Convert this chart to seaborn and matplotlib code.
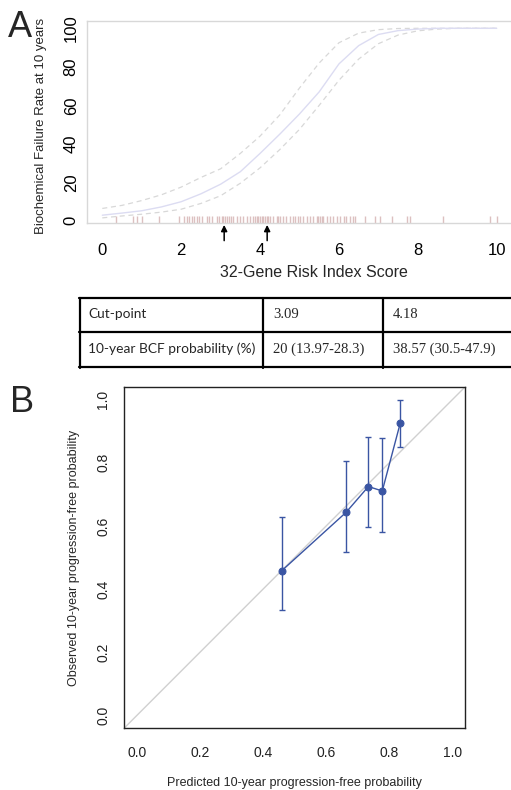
import numpy as np
import matplotlib
matplotlib.use('Agg')
import matplotlib.pyplot as plt
import seaborn as sns
import pandas as pd

# Panel A: risk curve with 95% band
score_x = [0, 0.5, 1, 1.5, 2, 2.5, 3, 3.5, 4, 4.5, 5, 5.5, 6, 6.5, 7, 7.5, 8, 8.5, 9, 10]
bcf_mid = [2.9, 4, 5.2, 7.2, 9.9, 14, 19, 25.5, 35, 45, 55.5, 67, 81.5, 91, 96.8, 98.8, 99.6, 100, 100, 100]
bcf_upper = [6.4, 8, 10.5, 13.5, 17.5, 22.5, 27, 35, 44, 55, 69, 82, 92.5, 97.5, 99.3, 99.9, 100, 100, 100, 100]
bcf_lower = [1.5, 2.5, 3.4, 4.5, 6, 9, 13, 19.5, 27.5, 37, 47.5, 60, 73, 84, 92, 96.5, 98.7, 99.6, 100, 100]

rug_scores = [0.35, 0.79, 0.89, 1.00, 1.45, 1.95, 2.07, 2.14, 2.21, 2.27, 2.33, 2.39, 2.45,
              2.52, 2.65, 2.71, 2.77, 2.90, 2.97, 3.03, 3.07, 3.11, 3.15, 3.20, 3.26, 3.32,
              3.41, 3.49, 3.56, 3.66, 3.74, 3.83, 3.87, 3.91, 3.96, 4.00, 4.04, 4.08, 4.13,
              4.17, 4.21, 4.25, 4.34, 4.42, 4.46, 4.51, 4.59, 4.67, 4.76, 4.84, 4.89, 4.95,
              5.01, 5.10, 5.18, 5.27, 5.35, 5.44, 5.48, 5.52, 5.56, 5.60, 5.69, 5.77, 5.86,
              5.94, 6.03, 6.13, 6.18, 6.28, 6.36, 6.41, 6.66, 6.91, 7.04, 7.34, 7.73, 7.80,
              8.65, 9.83, 10.0]

cut_points = [3.09, 4.18]

# table
table_rows = ['Cut-point', '10-year BCF probability (%)']
table_col1 = ['3.09', '20 (13.97-28.3)']
table_col2 = ['4.18', '38.57 (30.5-47.9)']

# Panel B: calibration
pred = np.array([0.460, 0.663, 0.734, 0.778, 0.835])
obs = np.array([0.459, 0.643, 0.725, 0.711, 0.926])
obs_lo = np.array([0.335, 0.517, 0.598, 0.580, 0.850])
obs_hi = np.array([0.630, 0.806, 0.882, 0.878, 1.000])

sns.set_style('white')
plt.rcParams['font.family'] = ['Liberation Sans', 'DejaVu Sans']

fig = plt.figure(figsize=(5.11, 7.9), dpi=100)
W, H = 511, 790

# table drawn in pixel coords
axT = fig.add_axes([0, 0, 1, 1])
axT.set_xlim(0, W)
axT.set_ylim(H, 0)
axT.axis('off')
axT.patch.set_alpha(0)
for yy in [298, 332, 367]:
    axT.plot([78.5, 530], [yy, yy], color='black', lw=1.6)
for xx in [79.5, 262.5, 382.5]:
    axT.plot([xx, xx], [297.5, 367.5], color='black', lw=1.6)
row_y = [314, 349]
for i in range(2):
    axT.text(88, row_y[i], table_rows[i], fontsize=9.9, family=['Lato', 'DejaVu Sans'],
             va='center', ha='left')
    axT.text(273, row_y[i], table_col1[i], fontsize=10.5, family=['Liberation Serif'],
             va='center', ha='left')
    axT.text(393, row_y[i], table_col2[i], fontsize=10.5, family=['Liberation Serif'],
             va='center', ha='left')

# Panel A
axA = fig.add_axes([87 / W, 1 - 222.5 / H, (541 - 87) / W, (222.5 - 21) / H])
sns.rugplot(x=rug_scores, ax=axA, height=0.03, color='#dcc0c0', lw=0.8)
sns.lineplot(x=score_x, y=bcf_upper, ax=axA, color='#d8d8d8', lw=0.9)
axA.lines[-1].set_linestyle((0, (4, 3)))
sns.lineplot(x=score_x, y=bcf_lower, ax=axA, color='#d8d8d8', lw=0.9)
axA.lines[-1].set_linestyle((0, (4, 3)))
sns.lineplot(x=score_x, y=bcf_mid, ax=axA, color='#dcdcf2', lw=1.0)
axA.set_xlim(-0.388, 11.123)
axA.set_ylim(-0.9, 103.8)
axA.set_xticks([0, 2, 4, 6, 8, 10])
axA.set_yticks([0, 20, 40, 60, 80, 100])
for s in axA.spines.values():
    s.set_color('#d8d8d8')
    s.set_linewidth(1)
axA.tick_params(axis='both', colors='#d0d0d0', labelcolor='black', labelsize=12,
                length=5, width=1, direction='out')
axA.tick_params(axis='x', pad=10)
axA.tick_params(axis='y', pad=1, labelrotation=90)
for lab in axA.get_yticklabels():
    lab.set_va('center')
axA.set_xlabel('32-Gene Risk Index Score', fontsize=11.5)
axA.xaxis.set_label_coords(0.5, -0.21)
axA.set_ylabel('Biochemical Failure Rate at 10 years', fontsize=9.5)
axA.yaxis.set_label_coords(-0.088, 0.48)
for cp in cut_points:
    axA.annotate('', xy=(cp, -0.012), xycoords=('data', 'axes fraction'),
                 xytext=(cp, -0.09), textcoords=('data', 'axes fraction'),
                 arrowprops=dict(arrowstyle='-|>', color='black', lw=1.1, mutation_scale=9,
                                 shrinkA=0, shrinkB=0),
                 annotation_clip=False)

# Panel B
blue = '#3a55a3'
axB = fig.add_axes([124 / W, 1 - 728.3 / H, (465 - 124) / W, (728.3 - 387) / H])
axB.plot([-0.04, 1.04], [-0.04, 1.04], color='#d0d0d0', lw=1)
axB.errorbar(pred, obs, yerr=[obs - obs_lo, obs_hi - obs], fmt='none', ecolor=blue,
             elinewidth=1, capsize=2.5, capthick=1)
sns.lineplot(x=pred, y=obs, ax=axB, color=blue, lw=1, marker='o', markersize=5,
             markeredgecolor=blue)
axB.set_xlim(-0.04, 1.04)
axB.set_ylim(-0.04, 1.04)
ticks = [0.0, 0.2, 0.4, 0.6, 0.8, 1.0]
axB.set_xticks(ticks)
axB.set_yticks(ticks)
axB.set_xticklabels(['%.1f' % t for t in ticks])
axB.set_yticklabels(['%.1f' % t for t in ticks])
for s in axB.spines.values():
    s.set_color('#222222')
    s.set_linewidth(1)
axB.tick_params(axis='both', colors='#222222', labelcolor='#222222', labelsize=10,
                length=5, width=0.8, direction='out')
axB.tick_params(axis='x', pad=8)
axB.tick_params(axis='y', pad=5, labelrotation=90)
for lab in axB.get_yticklabels():
    lab.set_va('center')
axB.set_xlabel('Predicted 10-year progression-free probability', fontsize=9)
axB.xaxis.set_label_coords(0.5, -0.142)
axB.set_ylabel('Observed 10-year progression-free probability', fontsize=9)
axB.yaxis.set_label_coords(-0.129, 0.5)

fig.text(8 / W, 1 - 10 / H, 'A', fontsize=26, va='top', ha='left')
fig.text(10 / W, 1 - 385 / H, 'B', fontsize=26, va='top', ha='left')

fig.savefig('out.png', dpi=100)
